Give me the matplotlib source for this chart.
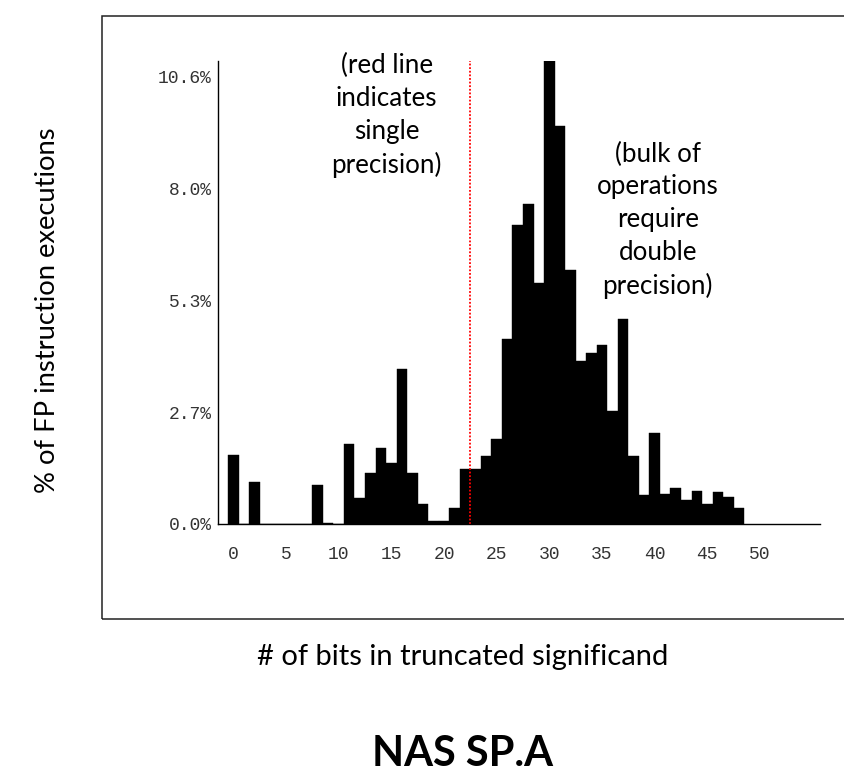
import matplotlib
matplotlib.use("Agg")
import matplotlib.pyplot as plt
from matplotlib.patches import Rectangle

# ---- data ----
bits = list(range(0, 49))
pct = [1.64, 0, 1.00, 0, 0, 0, 0, 0, 0.93, 0.03, 0, 1.90, 0.62, 1.21, 1.81,
       1.44, 3.68, 1.21, 0.48, 0.06, 0.08, 0.37, 1.30, 1.30, 1.62, 2.03, 4.40,
       7.12, 7.61, 5.73, 11.02, 9.47, 6.05, 3.89, 4.06, 4.27, 2.70, 4.89, 1.62,
       0.68, 2.17, 0.71, 0.86, 0.57, 0.78, 0.48, 0.75, 0.65, 0.37]
xticks = [0, 5, 10, 15, 20, 25, 30, 35, 40, 45, 50]
yticks = [0.0, 2.66, 5.32, 7.98, 10.64]
ytick_labels = ["0.0%", "2.7%", "5.3%", "8.0%", "10.6%"]
single_precision = 22.5
title = "NAS SP.A"
xlabel = "# of bits in truncated significand"
ylabel = "% of FP instruction executions"
note_left = "(red line\nindicates\nsingle\nprecision)"
note_right = "(bulk of\noperations\nrequire\ndouble\nprecision)"

W, H = 844, 772
fig = plt.figure(figsize=(W / 100, H / 100), dpi=100)
fig.patch.set_facecolor("white")

# outer frame
fig.add_artist(Rectangle((102.3 / W, 1 - 619.3 / H), (W + 5 - 102.3) / W,
                         (619.3 - 16) / H, transform=fig.transFigure,
                         fill=False, edgecolor="#222222", linewidth=1.1,
                         clip_on=False))

ax = fig.add_axes([218.3 / W, 1 - 524 / H, (820 - 218.3) / W, (524 - 61) / H])
ax.bar(bits, pct, width=1.0, color="black", edgecolor="black", linewidth=0.3)
ax.set_xlim(-1.43, 55.7)
ax.set_ylim(0, max(pct))
ax.axvline(single_precision, color="red", linestyle=(0, (1, 1)), linewidth=1.3)

for s in ["top", "right"]:
    ax.spines[s].set_visible(False)
for s in ["left", "bottom"]:
    ax.spines[s].set_color("black")
    ax.spines[s].set_linewidth(1.0)

mono = "Liberation Mono"
ax.set_xticks(xticks)
ax.set_xticklabels([str(v) for v in xticks], fontfamily=mono, fontsize=13,
                   color="#333333")
ax.set_yticks(yticks)
ax.set_yticklabels(ytick_labels, fontfamily=mono, fontsize=13, color="#333333")
ax.tick_params(axis="x", length=0, pad=16)
ax.tick_params(axis="y", length=0, pad=4.7)

sans = "Lato"
ax.text(14.56, 9.72, note_left, ha="center", va="center", fontsize=18.7,
        fontfamily=sans, linespacing=1.38, clip_on=False)
ax.text(40.3, 7.23, note_right, ha="center", va="center", fontsize=18.7,
        fontfamily=sans, linespacing=1.38, clip_on=False)

fig.text(463 / W, 1 - 657 / H, xlabel, ha="center", va="center", fontsize=21,
         fontfamily=sans)
fig.text(48 / W, 1 - 310 / H, ylabel, ha="center", va="center", fontsize=19.7,
         fontfamily=sans, rotation=90)
fig.text(463 / W, 1 - 754 / H, title, ha="center", va="center", fontsize=30,
         fontfamily=sans, fontweight="bold")

fig.savefig("out.png", dpi=100)
